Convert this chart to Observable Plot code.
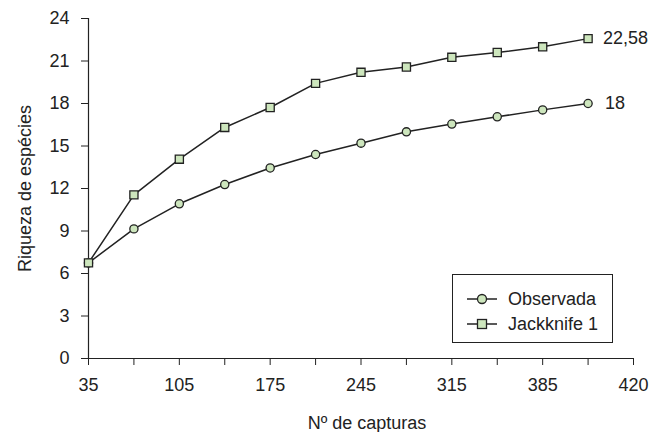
<!DOCTYPE html>
<html>
<head>
<meta charset="utf-8">
<script src="https://cdn.jsdelivr.net/npm/d3@7"></script>
<script src="https://cdn.jsdelivr.net/npm/@observablehq/plot@0.6"></script>
<style>
  html, body { margin: 0; padding: 0; background: #fff; }
  #wrap { position: relative; width: 659px; height: 432px; font-family: "Liberation Sans", Arial, sans-serif; }
  #legend { position: absolute; left: 452px; top: 274px; width: 161px; height: 69px; border: 1px solid #222; box-sizing: border-box; background: #fff; }
  .item { position: absolute; left: 14px; display: flex; align-items: center; font-size: 18px; color: #222; line-height: 20px; }
  .item svg { margin-right: 11px; }
</style>
</head>
<body>
<div id="wrap"></div>
<script>
const capturas = [35, 70, 105, 140, 175, 210, 245, 280, 315, 350, 385, 420];
const observada = [6.75, 9.15, 10.92, 12.28, 13.45, 14.4, 15.2, 16.0, 16.55, 17.06, 17.55, 18];
const jackknife = [6.75, 11.55, 14.07, 16.31, 17.72, 19.42, 20.2, 20.58, 21.26, 21.6, 22.0, 22.58];
const xTicks = [35, 70, 105, 140, 175, 210, 245, 280, 315, 350, 385, 420, 455];
const xTickLabels = ["35", "", "105", "", "175", "", "245", "", "315", "", "385", "", "420"];
const yTicks = [0, 3, 6, 9, 12, 15, 18, 21, 24];
const seriesNames = ["Observada", "Jackknife 1"];

const fillColor = "#cde6bd";
const ink = "#222";

const obsData = capturas.map((x, i) => ({x, y: observada[i]}));
const jackData = capturas.map((x, i) => ({x, y: jackknife[i]}));
const fmt = v => String(v).replace(".", ",");

const chart = Plot.plot({
  width: 659,
  height: 432,
  marginLeft: 88,
  marginRight: 26,
  marginTop: 18,
  marginBottom: 74,
  style: {fontFamily: "Liberation Sans, Arial, sans-serif", fontSize: "18px", color: ink, background: "white"},
  x: {domain: [35, 455]},
  y: {domain: [0, 24]},
  marks: [
    Plot.axisX({ticks: xTicks, tickFormat: (d) => xTickLabels[xTicks.indexOf(d)], tickSize: 7, tickPadding: 13, fontSize: 18, label: null, stroke: ink}),
    Plot.axisY({ticks: yTicks, tickSize: 7, tickPadding: 12, fontSize: 18, label: null, stroke: ink}),
    Plot.ruleY([0], {stroke: ink, strokeWidth: 1.2}),
    Plot.ruleX([35], {stroke: ink, strokeWidth: 1.2}),
    Plot.line(jackData, {x: "x", y: "y", stroke: ink, strokeWidth: 1.5}),
    Plot.line(obsData, {x: "x", y: "y", stroke: ink, strokeWidth: 1.5}),
    Plot.dot(obsData, {x: "x", y: "y", r: 4.1, fill: fillColor, stroke: ink, strokeWidth: 1.3}),
    Plot.dot(jackData, {x: "x", y: "y", r: 4.6, symbol: "square", fill: fillColor, stroke: ink, strokeWidth: 1.3}),
    Plot.text([jackData[jackData.length - 1]], {x: "x", y: "y", text: d => fmt(d.y), textAnchor: "start", dx: 15, fontSize: 18, fill: ink}),
    Plot.text([obsData[obsData.length - 1]], {x: "x", y: "y", text: d => fmt(d.y), textAnchor: "start", dx: 17, fontSize: 18, fill: ink}),
    Plot.text(["Nº de capturas"], {frameAnchor: "bottom", dy: 70, dx: 6, fontSize: 18, fill: ink}),
    Plot.text(["Riqueza de espécies"], {frameAnchor: "left", textAnchor: "middle", dx: -63, rotate: -90, fontSize: 18, fill: ink})
  ]
});

const wrap = document.getElementById("wrap");
wrap.appendChild(chart);

const legend = document.createElement("div");
legend.id = "legend";
const sym = [
  `<svg width="30" height="14"><line x1="0" y1="7" x2="30" y2="7" stroke="${ink}" stroke-width="1.5"/><circle cx="15" cy="7" r="4.5" fill="${fillColor}" stroke="${ink}" stroke-width="1.3"/></svg>`,
  `<svg width="30" height="14"><line x1="0" y1="7" x2="30" y2="7" stroke="${ink}" stroke-width="1.5"/><rect x="10.5" y="2.5" width="9" height="9" fill="${fillColor}" stroke="${ink}" stroke-width="1.3"/></svg>`
];
seriesNames.forEach((name, i) => {
  const it = document.createElement("div");
  it.className = "item";
  it.style.top = (14 + i * 25) + "px";
  it.innerHTML = sym[i] + `<span>${name}</span>`;
  legend.appendChild(it);
});
wrap.appendChild(legend);
</script>
</body>
</html>
